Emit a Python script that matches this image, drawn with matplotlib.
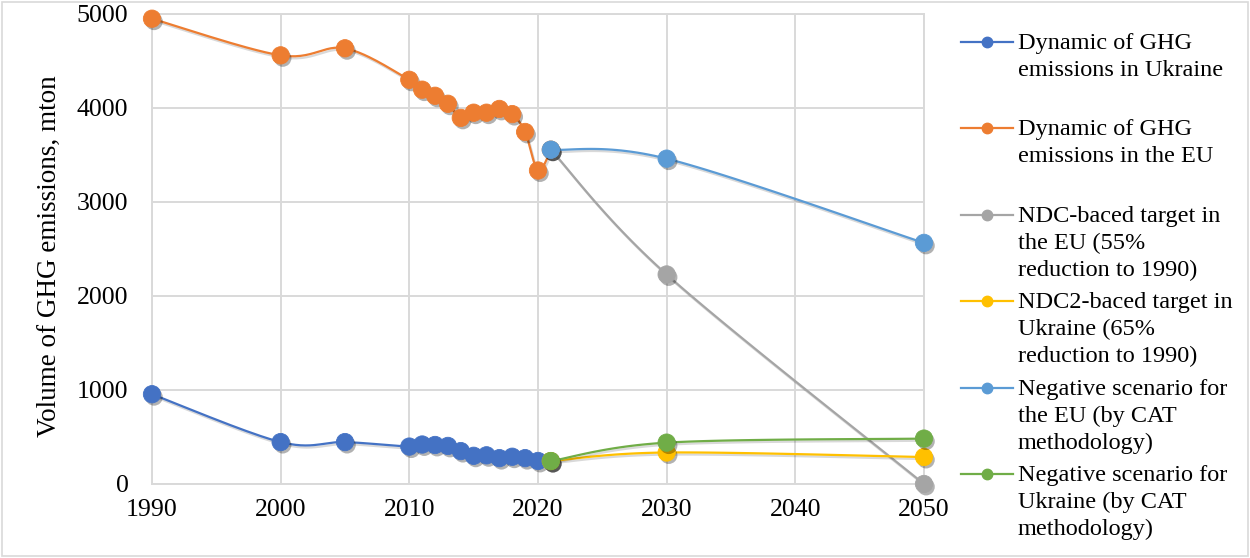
import numpy as np
import matplotlib.pyplot as plt
import matplotlib.patheffects as pe
from matplotlib.lines import Line2D
from matplotlib.patches import Rectangle

plt.rcParams['font.family'] = ['Liberation Serif', 'DejaVu Serif']

# --- data (mton) ---
hist_years = [1990, 2000, 2005, 2010, 2011, 2012, 2013, 2014, 2015, 2016, 2017, 2018, 2019, 2020, 2021]
ukraine_hist = [955, 446, 446, 398, 420, 415, 405, 350, 300, 305, 275, 290, 275, 245, 244]
eu_hist = [4950, 4560, 4635, 4300, 4195, 4130, 4045, 3895, 3950, 3950, 3990, 3935, 3745, 3335, 3556]

target_years = [2021, 2030, 2050]
eu_ndc = [3556, 2229, 0]
ukraine_ndc2 = [244, 335, 287]
eu_negative = [3556, 3461, 2565]
ukraine_negative = [244, 440, 483]

labels = [
    "Dynamic of GHG\nemissions in Ukraine",
    "Dynamic of GHG\nemissions in the EU",
    "NDC-baced target in\nthe EU (55%\nreduction to 1990)",
    "NDC2-baced target in\nUkraine (65%\nreduction to 1990)",
    "Negative scenario for\nthe EU (by CAT\nmethodology)",
    "Negative scenario for\nUkraine (by CAT\nmethodology)",
]
colors = ['#4472C4', '#ED7D31', '#A5A5A5', '#FFC000', '#5B9BD5', '#70AD47']
series = [
    (hist_years, ukraine_hist),
    (hist_years, eu_hist),
    (target_years, eu_ndc),
    (target_years, ukraine_ndc2),
    (target_years, eu_negative),
    (target_years, ukraine_negative),
]


def smooth(xs, ys, n=30):
    # Excel-like smoothed line: Catmull-Rom segments drawn as cubic Beziers
    p = np.column_stack([xs, ys]).astype(float)
    ext = np.vstack([p[0], p, p[-1]])
    t = np.linspace(0, 1, n)[:, None]
    out = []
    for i in range(len(p) - 1):
        p0, p1, p2, p3 = ext[i], ext[i + 1], ext[i + 2], ext[i + 3]
        c1 = p1 + (p2 - p0) / 6
        c2 = p2 - (p3 - p1) / 6
        seg = (1 - t)**3 * p1 + 3 * (1 - t)**2 * t * c1 + 3 * (1 - t) * t**2 * c2 + t**3 * p2
        out.append(seg if i == 0 else seg[1:])
    return np.vstack(out).T


W, H = 1250, 558
fig = plt.figure(figsize=(W / 100, H / 100), dpi=100)
ax = fig.add_axes([152 / W, 1 - 484 / H, (924 - 152) / W, (484 - 14) / H])

grid_c = '#d9d9d9'
ax.set_xlim(1990, 2050)
ax.set_ylim(0, 5000)
ax.set_xticks(range(1990, 2051, 10))
ax.set_yticks(range(0, 5001, 1000))
ax.grid(True, color=grid_c, lw=1.4)
ax.set_axisbelow(True)
for s in ax.spines.values():
    s.set_color(grid_c)
    s.set_linewidth(1.4)
ax.tick_params(length=0, labelsize=18.6, colors='black')
ax.tick_params(axis='y', pad=17)
ax.tick_params(axis='x', pad=11)
ax.set_ylabel('Volume of GHG emissions, mton', fontsize=19.5)
ax.yaxis.set_label_coords(-(152 - 62) / (924 - 152), 0.485)

shadow = [pe.SimplePatchShadow(offset=(1.5, -2), shadow_rgbFace='black', alpha=0.3), pe.Normal()]
line_shadow = [pe.SimpleLineShadow(offset=(1, -1.5), shadow_color='black', alpha=0.15), pe.Normal()]

for (xs, ys), col in zip(series, colors):
    sx, sy = smooth(xs, ys)
    ax.plot(sx, sy, color=col, lw=1.6, clip_on=False, path_effects=line_shadow, zorder=3)
    ax.plot(xs, ys, ls='none', marker='o', ms=12.5, color=col, mec=col, mew=0.6,
            clip_on=False, path_effects=shadow, zorder=3)

# legend drawn by hand so entries are evenly spaced like the original
base0, step, line_h = 49, 86.4, 27
for i, (lab, col) in enumerate(zip(labels, colors)):
    yb = base0 + i * step
    ym = yb - 7
    fig.add_artist(Line2D([961 / W, 1013 / W], [1 - ym / H, 1 - ym / H], color=col, lw=1.6,
                          transform=fig.transFigure))
    fig.add_artist(Line2D([987 / W], [1 - ym / H], color=col, marker='o', ms=7.5,
                          transform=fig.transFigure))
    for k, part in enumerate(lab.split('\n')):
        fig.text(1018 / W, 1 - (yb + k * line_h) / H, part, fontsize=17.5, va='baseline', ha='left')

fig.add_artist(Rectangle((2 / W, 2 / H), (W - 4) / W, (H - 4) / H, transform=fig.transFigure,
                         fill=False, edgecolor=grid_c, lw=1.2))

fig.savefig('out.png', dpi=100)
